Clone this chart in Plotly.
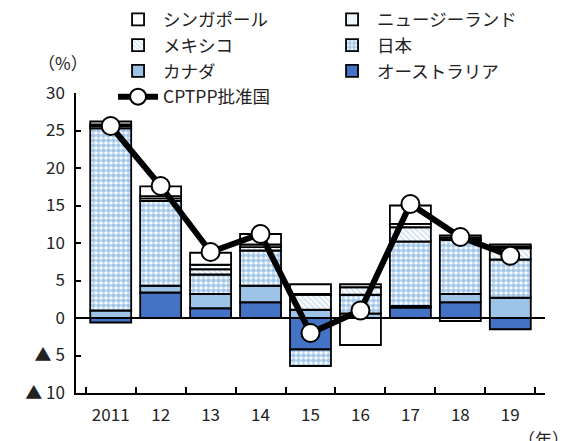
import plotly.graph_objects as go

years = ["2011", "12", "13", "14", "15", "16", "17", "18", "19"]
australia = [-0.6, 3.4, 1.3, 2.1, -4.2, 0.0, 1.4, 2.1, -1.5]
canada = [1.0, 0.9, 1.9, 2.2, 1.1, 0.6, 0.2, 1.1, 2.7]
japan = [24.3, 11.3, 2.6, 4.7, -2.2, 2.5, 8.6, 7.2, 5.1]
mexico = [0.3, 0.35, 0.7, 0.45, 2.0, 1.0, 1.9, 0.3, 1.5]
newzealand = [0.2, 0.3, 0.6, 0.35, 0.1, 0.4, 0.45, 0.3, 0.2]
singapore = [0.4, 1.3, 1.6, 1.4, 1.3, -3.6, 2.45, -0.4, 0.3]
cptpp = [25.6, 17.6, 8.8, 11.2, -2.0, 1.0, 15.2, 10.8, 8.3]

ytickvals = [-10, -5, 0, 5, 10, 15, 20, 25, 30]
yticktext = ["▲ 10", "▲ 5", "0", "5", "10", "15", "20", "25", "30"]

FONT = "Noto Sans CJK JP"
TXT = "#222222"
outline = dict(color="black", width=1.8)

fig = go.Figure()

def add_bar(name, values, color, rank, pattern=None):
    marker = dict(color=color, line=outline)
    if pattern:
        marker["pattern"] = pattern
    fig.add_trace(go.Bar(x=years, y=values, name=name, marker=marker,
                         legendrank=rank))

add_bar("オーストラリア", australia, "#4472C4", 6)
add_bar("カナダ", canada, "#9DC3E6", 5)
add_bar("日本", japan, "white", 4,
        dict(shape=".", fgcolor="#4A8FD4", bgcolor="white", size=5, solidity=0.7, fillmode="overlay"))
add_bar("メキシコ", mexico, "white", 3,
        dict(shape="\\", fgcolor="#9DC3E6", bgcolor="white", size=4, solidity=0.4, fillmode="overlay"))
add_bar("ニュージーランド", newzealand, "white", 2,
        dict(shape=".", fgcolor="#9DC3E6", bgcolor="white", size=3, solidity=0.3, fillmode="overlay"))
add_bar("シンガポール", singapore, "white", 1)

fig.add_trace(go.Scatter(
    x=years, y=cptpp, name="CPTPP批准国", mode="lines+markers",
    line=dict(color="black", width=6),
    marker=dict(symbol="circle", size=18, color="white", line=dict(color="black", width=2)),
    legendrank=7,
))

fig.update_layout(
    width=561, height=433,
    margin=dict(l=68, r=24, t=85, b=48, autoexpand=False),
    barmode="relative",
    bargap=0.18,
    plot_bgcolor="white",
    paper_bgcolor="white",
    font=dict(family=FONT, size=17, color=TXT),
    showlegend=True,
    legend=dict(
        orientation="h",
        xref="paper", yref="paper",
        x=0.079, xanchor="left",
        y=1.305, yanchor="top",
        entrywidth=159, entrywidthmode="pixels",
        traceorder="normal",
        font=dict(family=FONT, size=17.5, color=TXT),
        itemwidth=40,
        tracegroupgap=0,
        bgcolor="rgba(0,0,0,0)",
    ),
    xaxis=dict(
        type="category", automargin=False,
        showline=True, linecolor="black", linewidth=1.5,
        ticks="inside", tickson="boundaries", ticklen=6, tickcolor="black", tickwidth=1.5,
        showgrid=False,
        tickfont=dict(size=17),
        ticklabelstandoff=6,
    ),
    yaxis=dict(
        range=[-10, 30], automargin=False,
        tickvals=ytickvals, ticktext=yticktext,
        showline=True, linecolor="black", linewidth=1.5,
        ticks="inside", ticklen=5, tickcolor="black", tickwidth=1.5,
        showgrid=False,
        zeroline=True, zerolinecolor="black", zerolinewidth=1.5,
        tickfont=dict(size=17),
        ticklabelstandoff=6,
    ),
    annotations=[
        dict(text="（%）", xref="paper", yref="paper", x=-0.085, y=1.15,
             showarrow=False, font=dict(size=17, family=FONT, color=TXT)),
        dict(text="（年）", xref="paper", yref="paper", x=1.055, y=-0.152,
             showarrow=False, yanchor="middle", font=dict(size=17, family=FONT, color=TXT)),
    ],
)

fig.write_html("out.html")
